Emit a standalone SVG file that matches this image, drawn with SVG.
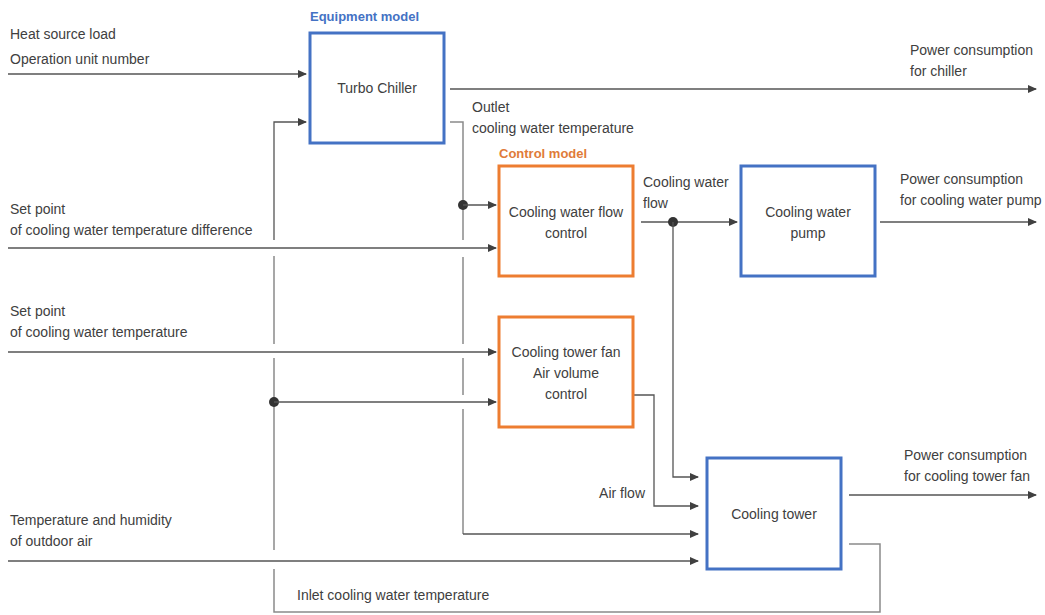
<svg xmlns="http://www.w3.org/2000/svg" width="1045" height="615" viewBox="0 0 1045 615">
<defs>
<marker id="ah" markerWidth="9" markerHeight="8" refX="8" refY="4" orient="auto" markerUnits="userSpaceOnUse">
<path d="M0,0 L9,4 L0,8 Z" fill="#404040"/>
</marker>
<style>
text{font-family:"Liberation Sans",Arial,sans-serif;font-size:14px;fill:#404040}
.c{text-anchor:middle}
.hd{font-weight:bold;font-size:13px}
.eq{fill:#4472C4}
.ct{fill:#E07B39}
.bb{fill:#fff;stroke:#4472C4;stroke-width:3}
.ob{fill:#fff;stroke:#ED7D31;stroke-width:3}
.ln{fill:none;stroke:#555;stroke-width:1.3}
.ar{fill:none;stroke:#555;stroke-width:1.3;marker-end:url(#ah)}
.vl{fill:none;stroke:#8a8a8a;stroke-width:1.5}
.dot{fill:#333}
</style>
</defs>
<rect width="1045" height="615" fill="#fff"/>

<g id="connectors">
<line class="ar" x1="8" y1="74" x2="306" y2="74"/>
<polyline class="ar" points="274,240 274,122 306,122"/>
<line class="vl" x1="274" y1="256" x2="274" y2="344"/>
<line class="vl" x1="274" y1="358" x2="274" y2="550"/>
<polyline class="vl" points="274,569 274,612 880,612 880,544 849,544"/>
<line class="ar" x1="450" y1="89" x2="1036" y2="89"/>
<polyline class="vl" points="450,122 463,122 463,240"/>
<line class="vl" x1="463" y1="257" x2="463" y2="344"/>
<line class="vl" x1="463" y1="358" x2="463" y2="395"/>
<polyline class="vl" points="463,409 463,534"/>
<line class="ar" x1="463" y1="534" x2="698" y2="534"/>
<circle class="dot" cx="463" cy="205" r="5"/>
<line class="ar" x1="463" y1="205" x2="496" y2="205"/>
<line class="ar" x1="8" y1="248" x2="496" y2="248"/>
<line class="ar" x1="8" y1="352" x2="496" y2="352"/>
<circle class="dot" cx="274" cy="402" r="5"/>
<line class="ar" x1="274" y1="402" x2="496" y2="402"/>
<line class="ar" x1="641" y1="222" x2="737" y2="222"/>
<circle class="dot" cx="673" cy="222" r="5"/>
<polyline class="ar" points="673,222 673,477 698,477"/>
<line class="ar" x1="880" y1="222" x2="1036" y2="222"/>
<polyline class="ar" points="634,395 654,395 654,506 698,506"/>
<line class="ar" x1="8" y1="561" x2="698" y2="561"/>
<line class="ar" x1="849" y1="495" x2="1036" y2="495"/>
</g>

<g id="labels">
<text x="10" y="39">Heat source load</text>
<text x="10" y="64">Operation unit number</text>
<text x="910" y="55">Power consumption</text>
<text x="910" y="76">for chiller</text>
<text x="472" y="112">Outlet</text>
<text x="472" y="133">cooling water temperature</text>
<text x="10" y="214">Set point</text>
<text x="10" y="235">of cooling water temperature difference</text>
<text x="643" y="187">Cooling water</text>
<text x="643" y="208">flow</text>
<text x="900" y="184">Power consumption</text>
<text x="900" y="205">for cooling water pump</text>
<text x="10" y="316">Set point</text>
<text x="10" y="337">of cooling water temperature</text>
<text x="904" y="460">Power consumption</text>
<text x="904" y="481">for cooling tower fan</text>
<text x="645" y="498" text-anchor="end">Air flow</text>
<text x="10" y="525">Temperature and humidity</text>
<text x="10" y="546">of outdoor air</text>
<text x="297" y="600">Inlet cooling water temperature</text>
<text class="hd eq" x="310" y="21">Equipment model</text>
<text class="hd ct" x="499" y="158">Control model</text>
</g>

<g id="turbo-chiller">
<rect class="bb" x="310" y="33" width="134" height="110"/>
<text class="c" x="377" y="93">Turbo Chiller</text>
</g>
<g id="cooling-water-flow-control">
<rect class="ob" x="499" y="166" width="134" height="110"/>
<text class="c" x="566" y="217">Cooling water flow</text>
<text class="c" x="566" y="238">control</text>
</g>
<g id="cooling-water-pump">
<rect class="bb" x="741" y="166" width="134" height="110"/>
<text class="c" x="808" y="217">Cooling water</text>
<text class="c" x="808" y="238">pump</text>
</g>
<g id="cooling-tower-fan-control">
<rect class="ob" x="499" y="317" width="134" height="110"/>
<text class="c" x="566" y="357">Cooling tower fan</text>
<text class="c" x="566" y="378">Air volume</text>
<text class="c" x="566" y="399">control</text>
</g>
<g id="cooling-tower">
<rect class="bb" x="707" y="458" width="134" height="111"/>
<text class="c" x="774" y="519">Cooling tower</text>
</g>
</svg>
